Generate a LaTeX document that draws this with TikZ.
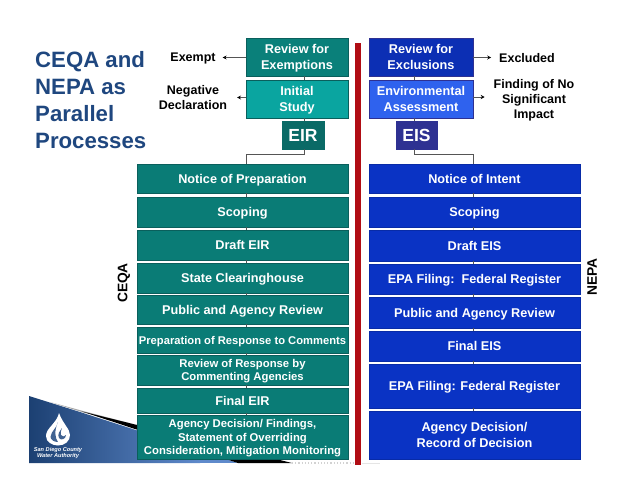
\documentclass[tikz,border=0pt]{standalone}
\usepackage{fontspec}
\setmainfont{Liberation Sans}
\usetikzlibrary{arrows.meta}
\definecolor{tealb}{HTML}{0A7C76}
\definecolor{teall}{HTML}{0AA5A0}
\definecolor{teald}{HTML}{0A6A66}
\definecolor{tealedge}{HTML}{0A5F5C}
\definecolor{blueb}{HTML}{0A33C4}
\definecolor{bluer}{HTML}{0C2FB4}
\definecolor{bluel}{HTML}{2F62EE}
\definecolor{bluee}{HTML}{2E3192}
\definecolor{titleb}{HTML}{1F477F}
\definecolor{swooshr}{HTML}{5F8ACB}
\definecolor{redbar}{HTML}{B00D14}
\definecolor{lnk}{HTML}{555555}
\tikzset{
  x=1pt,y=-1pt,
  boxbase/.style={inner sep=0pt,outer sep=0pt,align=center,text=white,text depth=-1.5pt,font=\fontsize{12.7}{15}\selectfont\bfseries,line width=0.5pt},
  lbox/.style={boxbase,fill=tealb,draw=tealedge,minimum width=211pt},
  rbox/.style={boxbase,fill=blueb,draw=blueb!85!black,minimum width=211pt},
  smalltxt/.style={font=\fontsize{11.3}{13.5}\selectfont\bfseries},
  toplbox/.style={boxbase,draw=tealedge,minimum width=102pt,minimum height=38pt,font=\fontsize{12.7}{16}\selectfont\bfseries},
  toprbox/.style={boxbase,draw=bluee,minimum width=104pt,minimum height=38pt,font=\fontsize{12.7}{16}\selectfont\bfseries},
  tagbox/.style={boxbase,font=\fontsize{17.5}{20}\selectfont\bfseries,minimum height=28pt},
  outcome/.style={inner sep=0pt,outer sep=0pt,align=center,text=black,text depth=-0.5pt,font=\fontsize{12.5}{15}\selectfont\bfseries},
  sidetag/.style={inner sep=0pt,rotate=90,text=black,font=\fontsize{13.8}{16}\selectfont\bfseries},
  link/.style={draw=lnk,line width=0.7pt},
  outarrow/.style={draw=lnk,line width=0.7pt,-{Stealth[length=4pt,width=4pt,color=black]}}
}
\begin{document}
\begin{tikzpicture}
\useasboundingbox (0,0) rectangle (638,493);
% footer swoosh
\begin{scope}
\clip (29,396) -- (80,412) -- (238,463) -- (29,463) -- cycle;
\shade[left color=titleb!90!black,right color=swooshr] (29,396) rectangle (200,463);
\fill[swooshr] (199.5,396) rectangle (238,463);
\end{scope}
\fill[gray!70] (50,402) -- (85,411.5) -- (137,425) -- (85,413) -- cycle;
\fill[black] (82,411.5) -- (292,463) -- (238,463) -- cycle;
\draw[gray!35,line width=1.2pt,dotted] (292,463) -- (362,463);
\draw[gray!20,line width=0.6pt] (362,463.5) -- (380,463.5);
% logo
\fill[white] (59,413) .. controls (57,423) and (46,428) .. (46,436)
  .. controls (46,442) and (52,445.5) .. (58,445.5)
  .. controls (65,445.5) and (70,441) .. (70,435)
  .. controls (70,429) and (63,424) .. (59,413) -- cycle;
\fill[titleb!85!white] (58,422) .. controls (57,428) and (51,431) .. (50.5,437)
  .. controls (51,440) and (54,442) .. (58,442)
  .. controls (55,438) and (54,431) .. (58,422) -- cycle;
\fill[titleb!85!white] (62,428) .. controls (60,431) and (57,434) .. (59,438)
  .. controls (61,441) and (66,439) .. (66,435)
  .. controls (65,437) and (62,437) .. (61,435)
  .. controls (60,433) and (61,431) .. (62,428) -- cycle;
\node[inner sep=0pt,align=center,text=white,font=\fontsize{5.6}{6.2}\selectfont\bfseries\itshape] (logotxt) at (58,453) {San Diego County\\Water Authority};
% divider
\fill[redbar] (355,43) rectangle (361,465);
% title
\node[inner sep=0pt,anchor=west,align=left,text=titleb,font=\fontsize{22.2}{27}\selectfont\bfseries] (title) at (35,100) {CEQA and\\NEPA as\\Parallel\\Processes};
% top boxes left
\node[toplbox,fill=tealb!90!teall] (rfe) at (297,57) {Review for\\Exemptions};
\node[toplbox,fill=teall] (ist) at (297,99) {Initial\\Study};
\node[tagbox,fill=teald,minimum width=42pt,draw=teald] (eir) at (303,135) {EIR};
% top boxes right
\node[toprbox,fill=bluer] (rfx) at (421,57) {Review for\\Exclusions};
\node[toprbox,fill=bluel] (ea) at (421,99) {Environmental\\Assessment};
\node[tagbox,fill=bluee,minimum width=41pt,draw=bluee] (eis) at (416.5,135) {EIS};
% outcomes
\node[outcome] (exempt) at (193,57.5) {Exempt};
\node[outcome] (negd) at (193,97.5) {Negative\\Declaration};
\node[outcome] (excl) at (527,57.5) {Excluded};
\node[outcome] (fonsi) at (534,99) {Finding of No\\Significant\\Impact};
% left stack
\node[lbox,minimum height=29pt] (l1) at (242.5,178.5) {Notice of Preparation};
\node[lbox,minimum height=30pt] (l2) at (242.5,212) {Scoping};
\node[lbox,minimum height=30pt] (l3) at (242.5,245) {Draft EIR};
\node[lbox,minimum height=30pt] (l4) at (242.5,278) {State Clearinghouse};
\node[lbox,minimum height=29pt] (l5) at (242.5,309.5) {Public and Agency Review};
\node[lbox,minimum height=26pt,font=\fontsize{11.2}{13}\selectfont\bfseries] (l6) at (242.5,340) {Preparation of Response to Comments};
\node[lbox,minimum height=30pt,smalltxt] (l7) at (242.5,370) {Review of Response by\\Commenting Agencies};
\node[lbox,minimum height=25pt] (l8) at (242.5,400.5) {Final EIR};
\node[lbox,minimum height=44pt,smalltxt] (l9) at (242.5,437) {Agency Decision/ Findings,\\Statement of Overriding\\Consideration, Mitigation Monitoring};
% right stack
\node[rbox,minimum height=29pt] (r1) at (474.5,178.5) {Notice of Intent};
\node[rbox,minimum height=30pt] (r2) at (474.5,212) {Scoping};
\node[rbox,minimum height=31pt] (r3) at (474.5,245.5) {Draft EIS};
\node[rbox,minimum height=30pt,font=\fontsize{12.7}{15}\selectfont\bfseries] (r4) at (474.5,279) {EPA Filing:\ \ Federal Register};
\node[rbox,minimum height=31pt] (r5) at (474.5,312.5) {Public and Agency Review};
\node[rbox,minimum height=30pt] (r6) at (474.5,346) {Final EIS};
\node[rbox,minimum height=44pt] (r7) at (474.5,386) {EPA Filing: Federal Register};
\node[rbox,minimum height=48pt,font=\fontsize{12.7}{16}\selectfont\bfseries] (r8) at (474.5,435) {Agency Decision/\\Record of Decision};
% side tags
\node[sidetag] (ceqa) at (124,283) {CEQA};
\node[sidetag] (nepa) at (592,277) {NEPA};
% connector guides
\coordinate (lx) at (246.5,0);
\coordinate (rx) at (473.5,0);
\coordinate (ltop) at (304,0);
\coordinate (rtop) at (414,0);
\coordinate (lelbow) at (0,154);
% connectors
\draw[link] (rfe.south -| ltop) -- (ist.north -| ltop);
\draw[link] (ist.south -| ltop) -- (eir.north -| ltop);
\draw[link] (eir.south -| ltop) -- (ltop |- lelbow) -- (lx |- lelbow) -- (l1.north -| lx);
\draw[link] (rfx.south -| rtop) -- (ea.north -| rtop);
\draw[link] (ea.south -| rtop) -- (eis.north -| rtop);
\draw[link] (eis.south -| rtop) -- (rtop |- lelbow) -- (rx |- lelbow) -- (r1.north -| rx);
\foreach \a/\b in {l1/l2,l2/l3,l3/l4,l4/l5,l5/l6,l6/l7,l7/l8,l8/l9}
  \draw[link] (\a.south -| lx) -- (\b.north -| lx);
\foreach \a/\b in {r1/r2,r2/r3,r3/r4,r4/r5,r5/r6,r6/r7,r7/r8}
  \draw[link] (\a.south -| rx) -- (\b.north -| rx);
\draw[outarrow,shorten >=7pt] (rfe.west |- exempt.east) -- (exempt.east);
\draw[outarrow,shorten >=10pt] (ist.west |- negd.east) -- (negd.east);
\draw[outarrow,shorten >=8pt] (rfx.east |- excl.west) -- (excl.west);
\draw[outarrow,shorten >=9pt] (ea.east |- 0,97) -- (fonsi.west |- 0,97);
\end{tikzpicture}
\end{document}
